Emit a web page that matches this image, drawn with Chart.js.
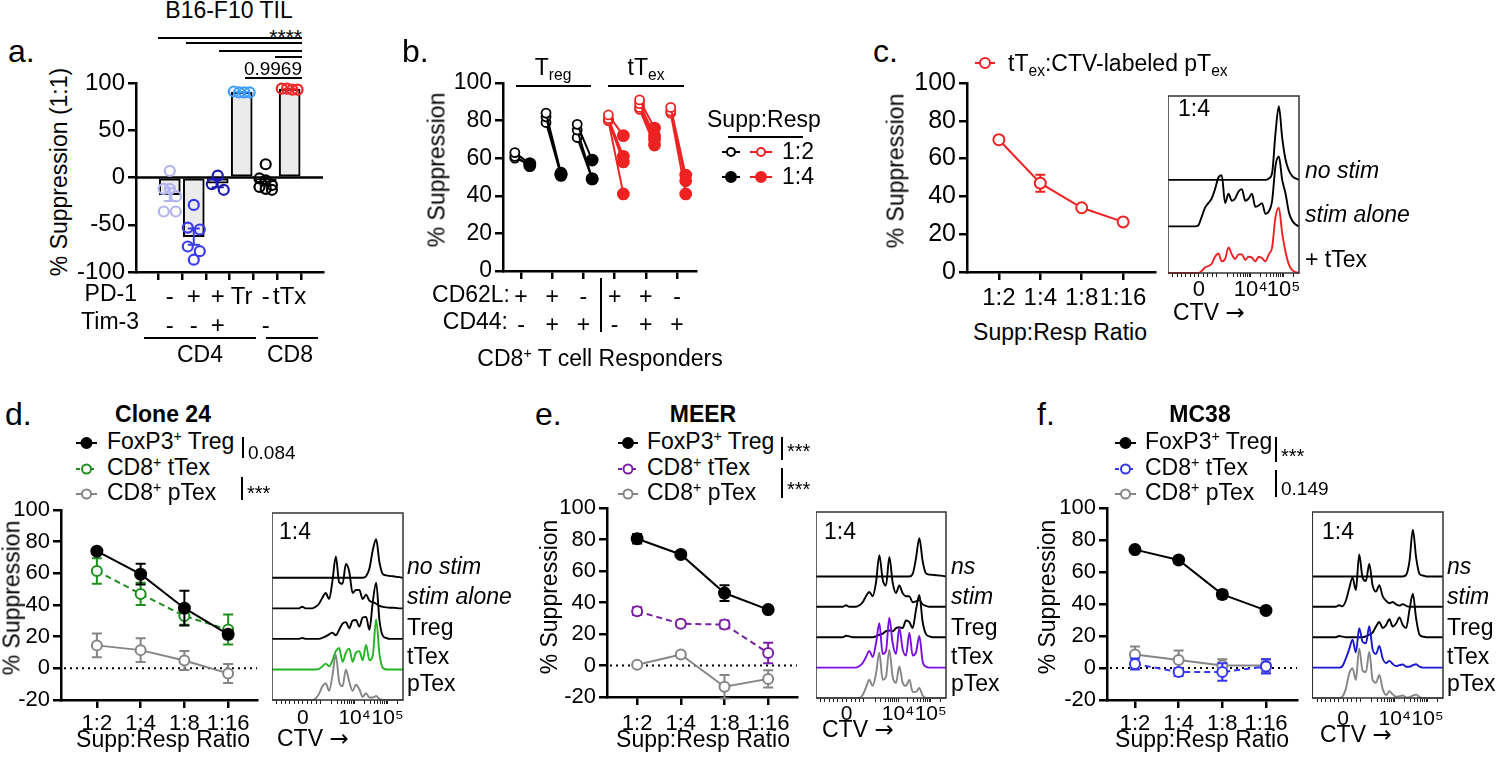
<!DOCTYPE html>
<html>
<head>
<meta charset="utf-8">
<title>Suppression assays</title>
<script src="https://cdn.jsdelivr.net/npm/chart.js@4.4.1/dist/chart.umd.min.js"></script>
<style>
  html, body { margin: 0; padding: 0; background: #fff; }
  body { position: relative; width: 1500px; height: 760px; overflow: hidden;
         font-family: "Liberation Sans", Arial, Helvetica, sans-serif; color: #000; }
  .box { position: absolute; }
  .t { position: absolute; white-space: nowrap; line-height: 1; }
  .ln { position: absolute; background: #000; }
  .sup { font-size: 62%; position: relative; top: -0.6em; }
  .sub { font-size: 68%; position: relative; top: 0.32em; }
  .arr { font-family: "DejaVu Sans", sans-serif; }
</style>
</head>
<body>
<script>
const FONT = '"Liberation Sans", Arial, Helvetica, sans-serif';
Chart.defaults.font.family = FONT;
Chart.defaults.color = '#000';

// ---------- a. B16-F10 TIL, % suppression at 1:1 ----------
const aPD1 = ['-', '+', '+', 'Tr', '-', 'tTx'];
const aTim3 = ['-', '-', '+', '', '-', ''];
const aPoints = [
  [7, -12, -12, -20, -36, -36],
  [-29, -53, -55, -73, -78, -87],
  [2, -7, -13],
  [90, 91, 90, 90],
  [14, -1, -3, -8, -13, -12, -10],
  [93, 94, 94, 93]
];
const aColors = ['#b4b4ee', '#3a3aee', '#1c1cb2', '#3f9dff', '#000000', '#f02828'];

// ---------- b. CD8 responder subsets ----------
const bCD62L = ['+', '+', '-', '+', '+', '-'];
const bCD44 = ['-', '+', '+', '-', '+', '+'];
const bTregHalf = [[63, 61, 60], [84, 82, 79], [78, 75, 71]];
const bTregQuarter = [[57, 56, 57], [52, 51, 51], [59, 49, 49]];
const bTexHalf = [[83, 81, 80, 80], [91, 89, 87, 86], [87, 85, 84]];
const bTexQuarter = [[72, 61, 58, 41], [76, 72, 70, 67], [51, 48, 41]];

// ---------- c. tTex on CTV-labeled pTex ----------
const ratios = ['1:2', '1:4', '1:8', '1:16'];
const cTex = [70, 47, 34, 26.5];
const cTexErr = [0.8, 4.5, 1, 0.8];

// ---------- d-f. tumour models ----------
const dTreg = [74, 59.5, 38, 21.5], dTregErr = [1.5, 6.5, 11, 2.5];
const dTtex = [61.5, 47, 33, 24.5], dTtexErr = [8, 7, 5.5, 9.5];
const dPtex = [14.5, 11.5, 5, -3.2], dPtexErr = [7.5, 7.5, 6, 6];

const eTreg = [80.5, 70.5, 46, 35.5], eTregErr = [3, 1.5, 5, 1];
const eTtex = [34.5, 26.5, 26, 8], eTtexErr = [2.5, 2, 2.5, 6.5];
const ePtex = [0.5, 7, -13.5, -8.5], ePtexErr = [0.5, 0.5, 7.5, 5.5];

const fTreg = [74, 67.5, 46, 36], fTregErr = [1, 2, 2.5, 1.5];
const fTtex = [2.5, -2.5, -2.5, 1], fTtexErr = [3.5, 2.5, 5.5, 4.5];
const fPtex = [8.5, 5, 1.5, 1.5], fPtexErr = [5, 6, 4, 4];

// ---------- CTV histograms (40 channels, height in trace units) ----------
const ctvMajor = [9.2, 24.6, 34.4];
const ctvLabels = ['0', '10⁴', '10⁵'];

const cHistNs   = [0,0,0,0,0,0,0,0,0,0,0,0,0,0,0,0,0,0,0,0,0,0,0,0,0,0,0,0,0,0,.03,.15,1.0,1.58,.9,.43,.2,.08,.03,0];
const cHistStim = [0,0,0,0,0,0,0,0,0,.02,.2,.4,.5,.6,.8,1.05,1.1,.5,.7,.55,.6,.75,.8,.55,.6,.7,.42,.45,.5,.27,.32,.55,1.3,1.5,1.0,.7,.3,.12,.04,0];
const cHistTex  = [0,0,0,0,0,0,0,0,0,0,.04,.12,.15,.2,.35,.42,.25,.3,.55,.4,.3,.4,.4,.28,.35,.33,.25,.35,.32,.25,.4,.55,1.2,1.4,.85,.45,.18,.06,.02,0];

const dHistNs   = [0,0,0,0,0,0,0,0,0,0,0,0,0,0,0,0,0,0,0,0,0,0,0,0,0,0,0,0,.05,.3,.9,1.26,.5,.12,.08,.06,.05,.03,.02,0];
const dHistStim = [0,0,0,0,0,0,0,0,0,.05,0,0,0,.05,.15,.35,.5,.3,.9,1.7,.85,.8,1.45,1.2,.5,.6,.6,.3,.45,.25,.2,.15,.08,.05,.03,.02,.02,.01,0,0];
const dHistTreg = [0,0,0,0,0,0,0,0,0,.03,0,0,0,0,0,.03,.08,.15,.2,.12,.3,.5,.55,.35,.6,.62,.4,.7,.72,.3,1.2,1.84,.6,.1,.03,0,0,0,0,0];
const dHistTtex = [0,0,0,0,0,0,0,0,0,0,0,0,0,0,.02,.1,.19,.1,.3,.6,.7,.25,.55,.68,.25,.55,.6,.3,.8,.3,.45,1.64,.5,.05,0,0,0,0,0,0];
const dHistPtex = [0,0,0,0,0,0,0,0,0,0,0,0,0,.05,.2,.45,.55,.3,.8,1.48,.6,.45,.99,.6,.3,.5,.35,.1,.22,.08,.08,.13,.03,0,0,0,0,0,0,0];

const eHistNs   = [0,0,0,0,0,0,0,0,0,0,0,0,0,0,0,0,0,0,0,0,0,0,0,0,0,0,0,0,0,.08,.6,1.26,.5,.1,.06,.05,.04,.03,.02,0];
const eHistStim = [0,0,0,0,0,0,0,0,0,.05,0,0,0,.05,.15,.35,.49,.35,.8,1.7,.9,.7,1.64,.8,.45,.7,.45,.35,.35,.15,.18,.22,.08,.03,0,0,0,0,0,0];
const eHistTreg = [0,0,0,0,0,0,0,0,0,.05,.03,0,0,0,0,0,0,0,.03,.08,.12,.2,.22,.2,.3,.33,.3,.55,.5,.3,.9,1.39,.5,.1,.03,0,0,0,0,0];
const eHistTtex = [0,0,0,0,0,0,0,0,0,0,0,0,0,.05,.15,.35,.55,.35,.8,1.46,.45,.55,1.64,.8,.45,1.31,.6,.4,1.15,.4,.5,1.04,.2,.03,0,0,0,0,0,0];
const eHistPtex = [0,0,0,0,0,0,0,0,0,0,0,0,0,0,.1,.35,.6,.4,.8,1.5,.6,.7,1.59,.7,.5,1.04,.5,.4,.6,.2,.2,.33,.08,0,0,0,0,0,0,0];

const fHistNs   = [0,0,0,0,0,0,0,0,0,0,0,0,0,0,0,0,0,0,0,0,0,0,0,0,0,0,0,0,.05,.5,1.54,.6,.08,.03,0,0,0,0,0,0];
const fHistStim = [0,0,0,0,0,0,0,0,.05,.02,.2,.6,.96,.55,1.72,.95,.85,1.41,.7,.5,.71,.35,.2,.12,.16,.08,.04,.09,.03,0,0,0,0,0,0,0,0,0,0,0];
const fHistTreg = [0,0,0,0,0,0,0,0,.04,.02,0,0,0,0,0,0,.03,.08,.15,.35,.5,.3,.4,.59,.35,.45,.65,.4,.3,.9,1.43,.6,.08,.02,0,0,0,0,0,0];
const fHistTtex = [0,0,0,0,0,0,0,0,0,.05,.3,.6,.92,.5,1.3,.85,.8,1.36,.6,.45,.71,.3,.15,.22,.12,.05,.08,.1,.03,.03,.08,.11,.03,0,0,0,0,0,0,0];
const fHistPtex = [0,0,0,0,0,0,0,0,0,.05,.3,.8,.98,.6,1.63,.9,.85,1.52,.6,.5,.76,.3,.1,.22,.12,.04,.06,.08,.02,.03,.08,.11,.03,0,0,0,0,0,0,0];

const RED = '#ee2222', GRAY = '#858585';

// ---------- helpers ----------
function drawErr(chart, i) {
  const ds = chart.data.datasets[i];
  if (!ds.err) return;
  const meta = chart.getDatasetMeta(i), ys = chart.scales.y, ctx = chart.ctx;
  ctx.save();
  ctx.lineWidth = 2;
  ctx.setLineDash([]);
  meta.data.forEach((el, j) => {
    const e = ds.err[j];
    if (!e) return;
    const v = ds.data[j].y;
    const y1 = ys.getPixelForValue(v + e), y2 = ys.getPixelForValue(v - e), w = ds.cap || 5;
    ctx.strokeStyle = Array.isArray(ds.errColor) ? ds.errColor[j] : (ds.errColor || ds.borderColor);
    ctx.beginPath();
    ctx.moveTo(el.x, y1); ctx.lineTo(el.x, y2);
    ctx.moveTo(el.x - w, y1); ctx.lineTo(el.x + w, y1);
    ctx.moveTo(el.x - w, y2); ctx.lineTo(el.x + w, y2);
    ctx.stroke();
  });
  ctx.restore();
}
Chart.register({
  id: 'errBars',
  beforeDatasetDraw(chart, args) { if (!chart.data.datasets[args.index].errOnTop) drawErr(chart, args.index); },
  afterDatasetDraw(chart, args) { if (chart.data.datasets[args.index].errOnTop) drawErr(chart, args.index); }
});

const PT = 20, PR = 20;
function panel(area, yw, xh, cfg) {
  const box = document.createElement('div');
  box.className = 'box';
  box.style.left = (area[0] - yw) + 'px';
  box.style.top = (area[2] - PT) + 'px';
  box.style.width = (area[1] - area[0] + yw + PR) + 'px';
  box.style.height = (area[3] - area[2] + PT + xh) + 'px';
  const cv = document.createElement('canvas');
  box.appendChild(cv);
  document.body.appendChild(box);
  cfg.options = Object.assign({
    responsive: true, maintainAspectRatio: false, animation: false, events: [],
    layout: { padding: { top: PT, right: PR, left: 0, bottom: 0 } },
    plugins: { legend: { display: false }, tooltip: { enabled: false } }
  }, cfg.options);
  return new Chart(cv, cfg);
}

const axisGrid = { drawOnChartArea: false, drawTicks: true, tickLength: 8, tickWidth: 2.5, tickColor: '#000', color: '#000', lineWidth: 2.5 };
const axisBorder = { display: true, color: '#000', width: 2.5 };

function xAxis(min, max, ticks, label, fs, xh, pad) {
  return {
    type: 'linear', min: min, max: max,
    afterBuildTicks: s => { s.ticks = ticks.map(v => ({ value: v })); },
    afterFit: s => { s.height = xh; },
    grid: axisGrid, border: axisBorder,
    ticks: { autoSkip: false, maxRotation: 0, minRotation: 0, padding: pad, color: '#000', font: { size: fs }, callback: (v, i) => label(i) }
  };
}
function yAxis(min, max, step, fs, yw) {
  return {
    type: 'linear', min: min, max: max,
    afterFit: s => { s.width = yw; },
    grid: axisGrid, border: axisBorder,
    ticks: { stepSize: step, padding: 3, color: '#000', font: { size: fs } }
  };
}

function spread(vals, tol) {
  const idx = vals.map((v, i) => i).sort((p, q) => vals[q] - vals[p]);
  const off = vals.map(() => 0);
  let row = [idx[0]];
  const flush = () => {
    const n = row.length, step = n === 2 ? 0.5 : (n === 3 ? 0.26 : 0.22);
    row.forEach((k, j) => { off[k] = (j - (n - 1) / 2) * step; });
  };
  for (let k = 1; k < idx.length; k++) {
    if (vals[row[0]] - vals[idx[k]] <= tol) row.push(idx[k]);
    else { flush(); row = [idx[k]]; }
  }
  flush();
  return off;
}

const zeroDots = {
  id: 'zeroDots',
  beforeDatasetsDraw(chart) {
    const ctx = chart.ctx, a = chart.chartArea, y = chart.scales.y.getPixelForValue(0);
    ctx.save();
    ctx.strokeStyle = '#000'; ctx.lineWidth = 2; ctx.setLineDash([2, 4]);
    ctx.beginPath(); ctx.moveTo(a.left + 3, y); ctx.lineTo(a.right, y); ctx.stroke();
    ctx.restore();
  }
};
const frame = {
  id: 'frame',
  afterDraw(chart) {
    const ctx = chart.ctx, a = chart.chartArea;
    ctx.save();
    ctx.strokeStyle = '#333'; ctx.lineWidth = 1.5;
    ctx.strokeRect(a.left, a.top, a.right - a.left, a.bottom - a.top);
    ctx.restore();
  }
};

function lineSet(vals, err, color, open, dashed) {
  return {
    type: 'scatter', showLine: true, data: vals.map((v, i) => ({ x: i, y: v })), err: err,
    borderColor: color, borderWidth: 2, borderDash: dashed ? [6, 4] : [],
    pointRadius: open ? 5 : 5.5, pointBorderWidth: 2, pointBorderColor: color,
    pointBackgroundColor: open ? '#fff' : color, clip: false
  };
}

function ratioChart(area, xmin, xmax, pad, sets) {
  return panel(area, 52, 40, {
    data: { datasets: sets },
    options: { scales: {
      x: xAxis(xmin, xmax, [0, 1, 2, 3], i => ratios[i], 22, 40, pad),
      y: yAxis(-20, 100, 20, 22, 52)
    } },
    plugins: [zeroDots]
  });
}

const ctvTicks = ctvMajor.slice();
for (let j = -6; j <= 4; j++) if (j !== 0) ctvTicks.push(ctvMajor[0] + j * 1.3);
for (const d0 of [14.8, 24.6]) for (let k = 2; k <= 9; k++) ctvTicks.push(d0 + 9.8 * Math.log10(k));
ctvTicks.push(34.4 + 9.8 * Math.log10(2));
ctvTicks.sort((p, q) => p - q);

function histChart(area, traces, colors, ymax, fs, pad) {
  const sets = traces.map((t, k) => ({
    type: 'scatter', showLine: true, data: t.map((v, i) => ({ x: i, y: k + v })),
    borderColor: colors[k], borderWidth: 1.9, pointRadius: 0,
    cubicInterpolationMode: 'monotone', clip: false
  }));
  return panel(area, 0, 30, {
    data: { datasets: sets },
    options: { scales: {
      x: {
        type: 'linear', min: 0, max: 39,
        afterBuildTicks: s => { s.ticks = ctvTicks.map(v => ({ value: v })); },
        afterFit: s => { s.height = 30; },
        grid: { drawOnChartArea: false, drawTicks: true, tickLength: 4, tickWidth: 1, tickColor: '#222' },
        border: { display: false },
        ticks: { autoSkip: false, maxRotation: 0, padding: pad, color: '#000', font: { size: fs },
                 callback: v => { const k = ctvMajor.indexOf(v); return k >= 0 ? ctvLabels[k] : ''; } }
      },
      y: { type: 'linear', min: 0, max: ymax, display: false }
    } },
    plugins: [frame]
  });
}

// ---------- charts ----------
// a
const aMeans = aPoints.map(p => p.reduce((s, v) => s + v, 0) / p.length);
const aSem = aPoints.map((p, i) => {
  const m = aMeans[i];
  return Math.sqrt(p.reduce((s, v) => s + (v - m) * (v - m), 0) / (p.length - 1)) / Math.sqrt(p.length);
});
const aSets = [{
  type: 'bar', order: 10, data: aMeans.map((m, i) => ({ x: i, y: m })),
  backgroundColor: '#ebebeb', borderColor: '#000', borderWidth: 2, borderSkipped: false, barThickness: 21,
  err: aSem, errColor: aColors, errOnTop: true, cap: 6
}];
aPoints.forEach((p, i) => {
  const off = spread(p, 8);
  aSets.push({
    type: 'scatter', order: 1, data: p.map((v, k) => ({ x: i + off[k], y: v })),
    pointRadius: 5, pointBorderWidth: 2.2, pointBorderColor: aColors[i],
    pointBackgroundColor: 'rgba(255,255,255,0)', clip: false
  });
});
panel([136, 323, 83, 272], 62, 75, {
  data: { datasets: aSets },
  options: { scales: {
    x: xAxis(-0.76, 5.74, [0, 1, 2, 3, 4, 5], i => [aPD1[i], aTim3[i]], 24, 75, 3),
    y: yAxis(-100, 100, 50, 24, 62)
  } },
  plugins: [{
    id: 'zeroA',
    beforeDatasetsDraw(chart) {
      const ctx = chart.ctx, a = chart.chartArea, y = chart.scales.y.getPixelForValue(0);
      ctx.save(); ctx.strokeStyle = '#000'; ctx.lineWidth = 2.5;
      ctx.beginPath(); ctx.moveTo(a.left, y); ctx.lineTo(a.right, y); ctx.stroke();
      ctx.restore();
    }
  }]
});

// b
function pairSet(g, hi, lo, color) {
  return {
    type: 'scatter', showLine: true, data: [{ x: g - 0.2, y: hi }, { x: g + 0.28, y: lo }],
    borderColor: color, borderWidth: 2, pointBorderColor: color,
    pointBackgroundColor: ['#fff', color], pointRadius: [4.5, 5.5], pointBorderWidth: 1.8, clip: false
  };
}
const bSets = [];
bTregHalf.forEach((grp, g) => grp.forEach((v, k) => bSets.push(pairSet(g, v, bTregQuarter[g][k], '#000'))));
bTexHalf.forEach((grp, g) => grp.forEach((v, k) => bSets.push(pairSet(g + 3, v, bTexQuarter[g][k], RED))));
panel([503, 696, 83, 271], 58, 75, {
  data: { datasets: bSets },
  options: { scales: {
    x: xAxis(-0.58, 5.61, [0, 1, 2, 3, 4, 5], i => [bCD62L[i], bCD44[i]], 23, 75, 5),
    y: yAxis(0, 100, 20, 23, 58)
  } }
});

// c
panel([967, 1155, 83, 272], 62, 45, {
  data: { datasets: [Object.assign(lineSet(cTex, cTexErr, RED, true, false), { pointRadius: 5.5 })] },
  options: { scales: {
    x: xAxis(-0.77, 3.77, [0, 1, 2, 3], i => ratios[i], 24, 45, 4),
    y: yAxis(0, 100, 20, 25, 62)
  } }
});
histChart([1168, 1299, 96, 273], [cHistTex, cHistStim, cHistNs], [RED, '#000', '#000'], 3.8, 22, 0);

// d
ratioChart([61, 257, 510, 700], -0.82, 3.66, 3, [
  lineSet(dTreg, dTregErr, '#000', false, false),
  lineSet(dTtex, dTtexErr, '#1f8f1f', true, true),
  lineSet(dPtex, dPtexErr, GRAY, true, false)
]);
histChart([272, 403, 513, 700], [dHistPtex, dHistTtex, dHistTreg, dHistStim, dHistNs],
  [GRAY, '#22b422', '#000', '#000', '#000'], 6.12, 21, 2);

// e
ratioChart([607, 797, 508, 697], -0.69, 3.66, 6, [
  lineSet(eTreg, eTregErr, '#000', false, false),
  lineSet(eTtex, eTtexErr, '#7a1fa6', true, true),
  lineSet(ePtex, ePtexErr, GRAY, true, false)
]);
histChart([816, 946, 512, 698], [eHistPtex, eHistTtex, eHistTreg, eHistStim, eHistNs],
  [GRAY, '#7a10e0', '#000', '#000', '#000'], 6.12, 21, 0);

// f
ratioChart([1107, 1297, 508, 700], -0.64, 3.71, 3, [
  lineSet(fTreg, fTregErr, '#000', false, false),
  lineSet(fTtex, fTtexErr, '#3535f5', true, true),
  lineSet(fPtex, fPtexErr, GRAY, true, false)
]);
histChart([1312, 1443, 512, 698], [fHistPtex, fHistTtex, fHistTreg, fHistStim, fHistNs],
  [GRAY, '#1818d0', '#000', '#000', '#000'], 6.12, 21, 5);

// ---------- text, brackets, legends ----------
function txt(x, base, html, fs, align, extra) {
  const d = document.createElement('div');
  d.className = 't';
  d.innerHTML = html;
  d.style.fontSize = fs + 'px';
  d.style.left = x + 'px';
  d.style.top = (base - 0.85 * fs) + 'px';
  if (align === 'c') d.style.transform = 'translateX(-50%)';
  if (align === 'r') d.style.transform = 'translateX(-100%)';
  if (extra) d.style.cssText += extra;
  document.body.appendChild(d);
}
function vtxt(cx, cy, html, fs) {
  const d = document.createElement('div');
  d.className = 't';
  d.innerHTML = html;
  d.style.fontSize = fs + 'px';
  d.style.left = cx + 'px';
  d.style.top = cy + 'px';
  d.style.transform = 'translate(-50%, -50%) rotate(-90deg)';
  document.body.appendChild(d);
}
function hline(x1, x2, y, w) {
  const d = document.createElement('div');
  d.className = 'ln';
  w = w || 2;
  Object.assign(d.style, { left: x1 + 'px', top: (y - w / 2) + 'px', width: (x2 - x1) + 'px', height: w + 'px' });
  document.body.appendChild(d);
}
function vline(x, y1, y2, w) {
  const d = document.createElement('div');
  d.className = 'ln';
  w = w || 2;
  Object.assign(d.style, { left: (x - w / 2) + 'px', top: y1 + 'px', width: w + 'px', height: (y2 - y1) + 'px' });
  document.body.appendChild(d);
}
const NS = 'http://www.w3.org/2000/svg';
function sym(x1, x2, y, color, open, dashed, r) {
  const s = document.createElementNS(NS, 'svg');
  const w = x2 - x1 + 8;
  s.setAttribute('width', w); s.setAttribute('height', 20);
  s.style.position = 'absolute'; s.style.left = (x1 - 4) + 'px'; s.style.top = (y - 10) + 'px';
  const l = document.createElementNS(NS, 'line');
  l.setAttribute('x1', 4); l.setAttribute('x2', w - 4); l.setAttribute('y1', 10); l.setAttribute('y2', 10);
  l.setAttribute('stroke', color); l.setAttribute('stroke-width', 2);
  if (dashed) l.setAttribute('stroke-dasharray', '4 3');
  const c = document.createElementNS(NS, 'circle');
  c.setAttribute('cx', w / 2); c.setAttribute('cy', 10); c.setAttribute('r', r || 4.5);
  c.setAttribute('fill', open ? '#fff' : color); c.setAttribute('stroke', color); c.setAttribute('stroke-width', 2);
  s.appendChild(l); s.appendChild(c);
  document.body.appendChild(s);
}
const SUP = s => '<span class="sup">' + s + '</span>';
const SUB = s => '<span class="sub">' + s + '</span>';
const CTV = 'CTV <span class="arr">→</span>';

// a
txt(8, 62, 'a.', 32);
txt(229, 19, 'B16-F10 TIL', 23, 'c');
hline(158, 302, 38); hline(186, 302, 43); hline(219, 302, 51); hline(275, 302, 57);
txt(302, 44, '****', 21, 'r');
txt(302, 75, '0.9969', 19, 'r');
hline(245, 302, 78, 1.5);
vtxt(59, 172, '% Suppression (1:1)', 23);
txt(137, 302, 'PD-1', 23, 'r');
txt(139, 330, 'Tim-3', 23, 'r');
hline(144, 256, 338); hline(266, 318, 338);
txt(200, 363, 'CD4', 23, 'c');
txt(290, 363, 'CD8', 23, 'c');

// b
txt(402, 62, 'b.', 32);
txt(553, 76, 'T' + SUB('reg'), 23, 'c');
hline(516, 591, 86);
txt(646, 76, 'tT' + SUB('ex'), 23, 'c');
hline(608, 684, 86);
vtxt(437, 170, '% Suppression', 23);
txt(510, 303, 'CD62L:', 23, 'r');
txt(508, 330, 'CD44:', 23, 'r');
vline(601, 278, 332);
txt(600, 367, 'CD8' + SUP('+') + ' T cell Responders', 23, 'c');
txt(707, 128, 'Supp:Resp', 23);
hline(728, 803, 137);
sym(722, 740, 152, '#000', true, false, 4);
sym(750, 772, 152, RED, true, false, 4);
txt(782, 160, '1:2', 23);
sym(722, 740, 177, '#000', false, false, 5);
sym(750, 772, 177, RED, false, false, 5);
txt(782, 185, '1:4', 23);

// c
txt(873, 62, 'c.', 32);
sym(975, 995, 63, RED, true, false, 5);
txt(1008, 72, 'tT' + SUB('ex') + ':CTV-labeled pT' + SUB('ex'), 23);
vtxt(896, 171, '% Suppression', 23);
txt(1060, 341, 'Supp:Resp Ratio', 23, 'c');
txt(1178, 117, '1:4', 23);
txt(1305, 179, '<i>no stim</i>', 23);
txt(1305, 223, '<i>stim alone</i>', 23);
txt(1305, 268, '+ tTex', 23);
txt(1173, 321, CTV, 23);

// d, e, f shared pieces
function legendRows(x1, x2, tx, color) {
  sym(x1, x2, 443, '#000', false, false, 5);
  txt(tx, 450, 'FoxP3' + SUP('+') + ' Treg', 23);
  sym(x1, x2, 469, color, true, true, 4.5);
  txt(tx, 476, 'CD8' + SUP('+') + ' tTex', 23);
  sym(x1, x2, 494, GRAY, true, false, 4.5);
  txt(tx, 501, 'CD8' + SUP('+') + ' pTex', 23);
}
function histLabels(bx, lx, names, ctvBase) {
  txt(bx, 540, '1:4', 23);
  const bases = [575, 605, 636, 665, 692];
  names.forEach((n, k) => txt(lx, bases[k], n, 23));
  txt(bx - 2, ctvBase, CTV, 23);
}

// d
txt(5, 425, 'd.', 32);
txt(163, 423, '<b>Clone 24</b>', 23, 'c');
legendRows(76, 97, 107, '#1f8f1f');
vline(243, 437, 458); txt(248, 459, '0.084', 19);
vline(242, 477, 500); txt(247, 500, '***', 20);
vtxt(12, 598, '% Suppression', 23);
txt(163, 748, 'Supp:Resp Ratio', 23, 'c');
histLabels(279, 407, ['<i>no stim</i>', '<i>stim alone</i>', 'Treg', 'tTex', 'pTex'], 747);

// e
txt(535, 425, 'e.', 32);
txt(703, 423, '<b>MEER</b>', 23, 'c');
legendRows(618, 638, 647, '#7a1fa6');
vline(782, 437, 460); txt(787, 458, '***', 20);
vline(782, 468, 498); txt(787, 496, '***', 20);
vtxt(549, 597, '% Suppression', 23);
txt(703, 748, 'Supp:Resp Ratio', 23, 'c');
histLabels(824, 951, ['<i>ns</i>', '<i>stim</i>', 'Treg', 'tTex', 'pTex'], 738);

// f
txt(1037, 425, 'f.', 32);
txt(1200, 423, '<b>MC38</b>', 23, 'c');
legendRows(1115, 1136, 1145, '#3535f5');
vline(1276, 437, 462); txt(1281, 463, '***', 20);
vline(1276, 470, 497); txt(1281, 495, '0.149', 19);
vtxt(1047, 597, '% Suppression', 23);
txt(1202, 748, 'Supp:Resp Ratio', 23, 'c');
histLabels(1322, 1447, ['<i>ns</i>', '<i>stim</i>', 'Treg', 'tTex', 'pTex'], 743);
</script>
</body>
</html>
